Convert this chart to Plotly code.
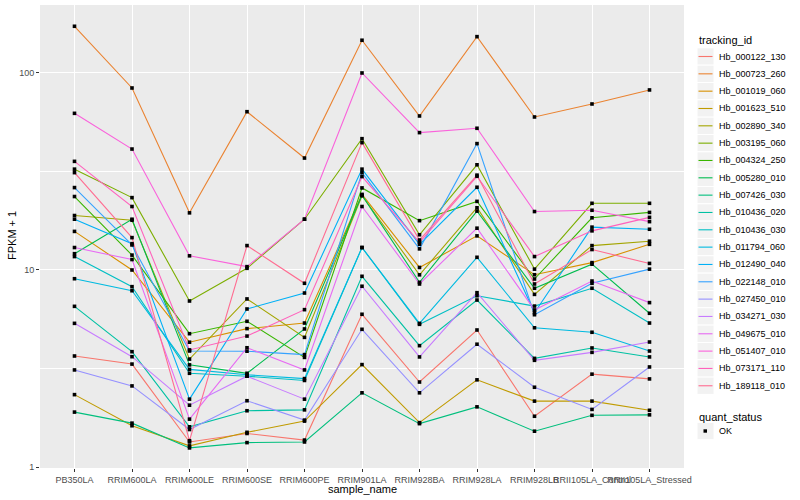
import plotly.graph_objects as go

samples = ["PB350LA", "RRIM600LA", "RRIM600LE", "RRIM600SE", "RRIM600PE", "RRIM901LA",
           "RRIM928BA", "RRIM928LA", "RRIM928LB", "RRII105LA_Control", "RRII105LA_Stressed"]

tracking_ids = ["Hb_000122_130", "Hb_000723_260", "Hb_001019_060", "Hb_001623_510", "Hb_002890_340",
                "Hb_003195_060", "Hb_004324_250", "Hb_005280_010", "Hb_007426_030", "Hb_010436_020",
                "Hb_010436_030", "Hb_011794_060", "Hb_012490_040", "Hb_022148_010", "Hb_027450_010",
                "Hb_034271_030", "Hb_049675_010", "Hb_051407_010", "Hb_073171_110", "Hb_189118_010"]

colors = ["#F8766D", "#EA8331", "#D89000", "#C09B00", "#A3A500", "#7CAE00", "#39B600", "#00BB4E",
          "#00BF7D", "#00C1A3", "#00BFC4", "#00BAE0", "#00B0F6", "#35A2FF", "#9590FF", "#C77CFF",
          "#E76BF3", "#FA62DB", "#FF62BC", "#FF6C91"]

hb_000122_130 = [3.66, 3.33, 1.34, 1.48, 1.37, 5.96, 2.70, 4.96, 1.81, 2.96, 2.80]
hb_000723_260 = [172.6, 83.9, 19.5, 63.6, 37.0, 146.6, 60.5, 152.9, 59.8, 69.6, 82.0]
hb_001019_060 = [15.7, 10.0, 4.30, 5.04, 5.38, 24.2, 10.3, 14.9, 9.46, 10.9, 13.5]
hb_001623_510 = [2.33, 1.62, 1.28, 1.50, 1.71, 3.31, 1.68, 2.77, 2.16, 2.16, 1.94]
hb_002890_340 = [18.9, 17.9, 3.53, 7.13, 4.55, 23.8, 9.45, 20.7, 7.52, 13.3, 14.0]
hb_003195_060 = [32.5, 23.3, 6.96, 10.2, 18.1, 46.4, 15.1, 34.2, 10.1, 21.8, 21.8]
hb_004324_250 = [23.6, 11.9, 4.75, 5.49, 3.60, 26.1, 17.8, 22.3, 9.0, 18.4, 19.6]
hb_005280_010 = [12.1, 18.1, 3.30, 2.99, 5.02, 24.0, 8.66, 19.9, 8.08, 10.7, 6.03]
hb_007426_030 = [1.90, 1.67, 1.25, 1.33, 1.34, 2.38, 1.66, 2.02, 1.52, 1.83, 1.84]
hb_010436_020 = [6.54, 3.85, 1.60, 1.93, 1.95, 9.29, 4.13, 7.04, 3.56, 4.02, 3.62]
hb_010436_030 = [11.7, 8.23, 2.99, 2.89, 2.75, 13.0, 5.30, 7.40, 6.56, 8.08, 5.38]
hb_011794_060 = [9.03, 7.85, 3.13, 2.94, 2.81, 13.0, 5.36, 11.6, 5.09, 4.83, 3.88]
hb_012490_040 = [18.1, 13.6, 2.21, 6.34, 7.64, 32.5, 13.5, 26.3, 6.07, 16.5, 16.1]
hb_022148_010 = [26.2, 13.4, 3.88, 3.87, 3.72, 31.2, 12.8, 43.8, 5.93, 8.56, 10.1]
hb_027450_010 = [3.11, 2.58, 1.55, 2.17, 1.73, 5.00, 2.38, 4.20, 2.54, 1.96, 3.22]
hb_034271_030 = [5.36, 3.63, 2.06, 2.89, 2.21, 8.27, 3.62, 7.67, 3.48, 3.82, 4.31]
hb_049675_010 = [13.0, 11.3, 1.75, 4.03, 3.11, 21.0, 8.49, 16.3, 6.27, 8.79, 6.83]
hb_051407_010 = [62.4, 41.1, 11.8, 10.4, 18.1, 100.0, 49.8, 52.4, 19.8, 20.1, 17.6]
hb_073171_110 = [35.6, 21.0, 3.93, 4.62, 6.29, 29.8, 13.8, 29.9, 11.7, 15.8, 18.5]
hb_189118_010 = [31.2, 14.6, 1.36, 13.3, 8.56, 44.3, 14.2, 30.3, 8.49, 12.7, 10.8]

series = [hb_000122_130, hb_000723_260, hb_001019_060, hb_001623_510, hb_002890_340,
          hb_003195_060, hb_004324_250, hb_005280_010, hb_007426_030, hb_010436_020,
          hb_010436_030, hb_011794_060, hb_012490_040, hb_022148_010, hb_027450_010,
          hb_034271_030, hb_049675_010, hb_051407_010, hb_073171_110, hb_189118_010]

quant_status = ["OK"]

W, H = 800, 500
ML, MR, MT, MB = 40, 116, 5, 32
PW, PH = W - ML - MR, H - MT - MB


def px(x):
    return (x - ML) / PW


def py(y):
    return (H - MB - y) / PH


fig = go.Figure()
for name, col, vals in zip(tracking_ids, colors, series):
    fig.add_trace(go.Scatter(x=samples, y=vals, mode="lines", name=name,
                             line=dict(color=col, width=1.1), showlegend=False))

xs = [s for vals in series for s in samples]
ys = [v for vals in series for v in vals]
fig.add_trace(go.Scatter(x=xs, y=ys, mode="markers", name=quant_status[0],
                         marker=dict(symbol="square", size=3.6, color="black"), showlegend=False))

font = "Liberation Sans, Arial, sans-serif"
shapes = []
annotations = []

# legend: tracking_id
annotations.append(dict(x=px(697), y=py(40), xref="paper", yref="paper", text="tracking_id",
                        showarrow=False, xanchor="left", yanchor="middle",
                        font=dict(family=font, size=11, color="black")))
step = 17.33
for i, (name, col) in enumerate(zip(tracking_ids, colors)):
    cy = 56.5 + i * step
    shapes.append(dict(type="rect", xref="paper", yref="paper", x0=px(697), x1=px(714),
                       y0=py(cy - step / 2), y1=py(cy + step / 2), fillcolor="#F2F2F2",
                       line=dict(color="white", width=1), layer="above"))
    shapes.append(dict(type="line", xref="paper", yref="paper", x0=px(698.5), x1=px(712.5),
                       y0=py(cy), y1=py(cy), line=dict(color=col, width=1.1), layer="above"))
    annotations.append(dict(x=px(717), y=py(cy), xref="paper", yref="paper", text=name,
                            showarrow=False, xanchor="left", yanchor="middle",
                            font=dict(family=font, size=9, color="black")))

# legend: quant_status
annotations.append(dict(x=px(697), y=py(417), xref="paper", yref="paper", text="quant_status",
                        showarrow=False, xanchor="left", yanchor="middle",
                        font=dict(family=font, size=11, color="black")))
shapes.append(dict(type="rect", xref="paper", yref="paper", x0=px(697), x1=px(714),
                   y0=py(431 - step / 2), y1=py(431 + step / 2), fillcolor="#F2F2F2",
                   line=dict(color="white", width=1), layer="above"))
shapes.append(dict(type="rect", xref="paper", yref="paper", x0=px(703.5), x1=px(707),
                   y0=py(429.3), y1=py(432.7), fillcolor="black",
                   line=dict(color="black", width=0), layer="above"))
annotations.append(dict(x=px(717), y=py(431), xref="paper", yref="paper", text=quant_status[0],
                        showarrow=False, xanchor="left", yanchor="middle",
                        font=dict(family=font, size=9, color="black")))

# axis titles
annotations.append(dict(x=px(362), y=py(489), xref="paper", yref="paper", text="sample_name",
                        showarrow=False, xanchor="center", yanchor="middle",
                        font=dict(family=font, size=11, color="black")))
annotations.append(dict(x=px(12), y=py(236), xref="paper", yref="paper", text="FPKM + 1",
                        showarrow=False, xanchor="center", yanchor="middle", textangle=-90,
                        font=dict(family=font, size=11, color="black")))

fig.update_layout(
    width=W, height=H,
    margin=dict(l=ML, r=MR, t=MT, b=MB, pad=0),
    paper_bgcolor="white", plot_bgcolor="#EBEBEB",
    showlegend=False,
    shapes=shapes, annotations=annotations,
    font=dict(family=font),
    xaxis=dict(type="category", categoryorder="array", categoryarray=samples,
               range=[-0.6, 10.6], showgrid=True, gridcolor="white", gridwidth=1.1,
               zeroline=False, showline=False, ticks="outside", ticklen=3, tickcolor="#333333",
               tickwidth=1, tickfont=dict(family=font, size=9, color="#4D4D4D"),
               tickangle=0, automargin=False),
    yaxis=dict(type="log", range=[-0.005, 2.345], tickvals=[1, 10, 100], ticktext=["1", "10", "100"],
               showgrid=True, gridcolor="white", gridwidth=1.1, zeroline=False, showline=False,
               ticks="outside", ticklen=3, tickcolor="#333333", tickwidth=1,
               tickfont=dict(family=font, size=9, color="#4D4D4D"), automargin=False,
               minor=dict(tickvals=[10 ** 0.5, 10 ** 1.5], showgrid=True, gridcolor="white",
                          gridwidth=0.5, ticks="")),
)

fig.write_html("out.html", config={"displayModeBar": False},
               post_script="document.body.style.margin='0px';document.body.style.overflow='hidden';")
